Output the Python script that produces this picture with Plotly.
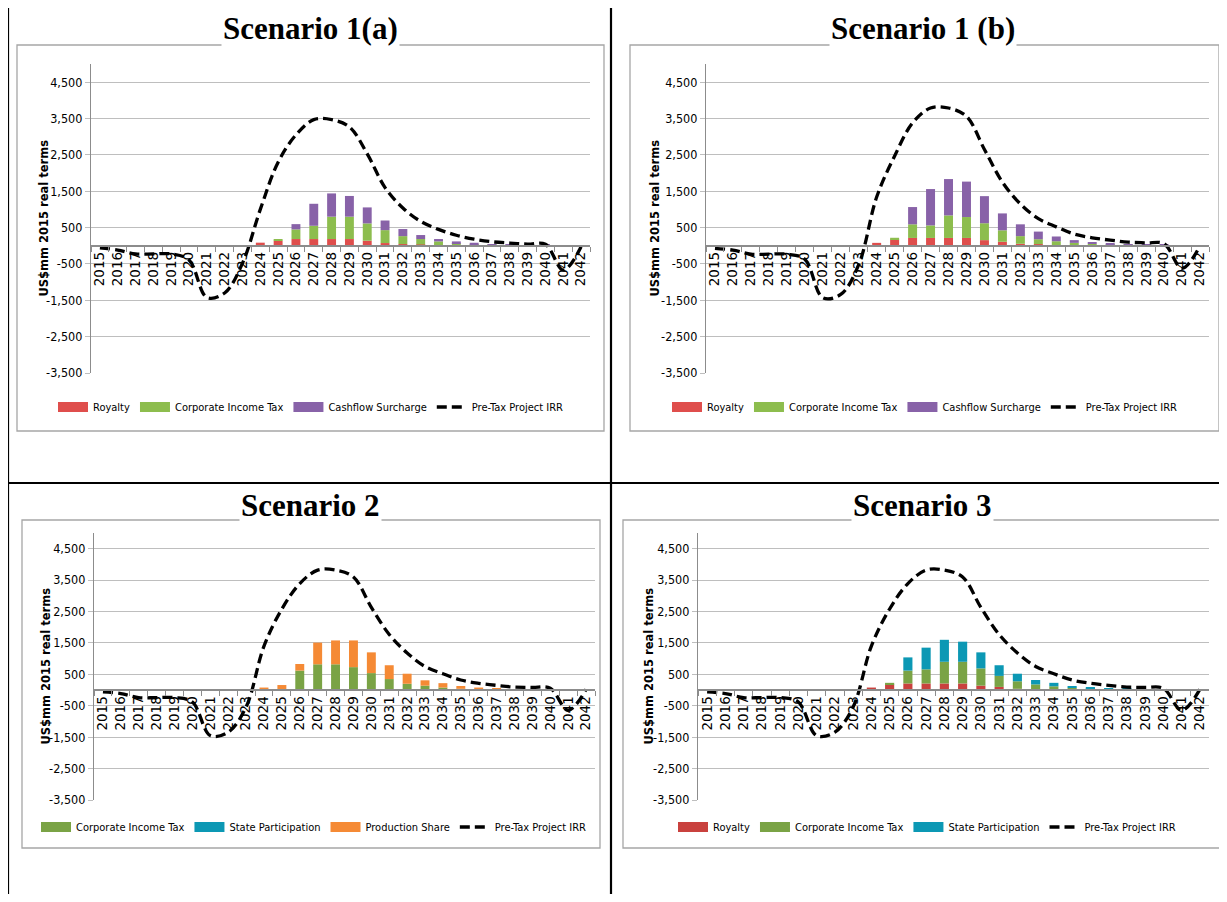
import plotly.graph_objects as go

# ---------------- data ----------------
years = [str(y) for y in range(2015, 2043)]
y_tick_vals = [-3500, -2500, -1500, -500, 500, 1500, 2500, 3500, 4500]
y_tick_text = ["-3,500", "-2,500", "-1,500", "-500", "500", "1,500", "2,500", "3,500", "4,500"]
y_range = [-3500, 5000]

titles = ["Scenario 1(a)", "Scenario 1 (b)", "Scenario 2", "Scenario 3"]
line_name = "Pre-Tax Project IRR"

# Scenario 1(a)
s1a_names = ["Royalty", "Corporate Income Tax", "Cashflow Surcharge"]
s1a_royalty = [0]*9 + [85, 140, 185, 185, 185, 185, 140, 75, 45, 35, 15, 10, 8, 5, 3, 2, 2, 0, 0]
s1a_cit = [0]*9 + [0, 45, 265, 365, 615, 615, 475, 355, 220, 150, 105, 65, 40, 25, 12, 8, 4, 0, 0]
s1a_cfs = [0]*9 + [0, 0, 145, 605, 640, 570, 440, 265, 195, 110, 65, 45, 35, 18, 10, 10, 25, 0, 0]
s1a_line = [-55, -120, -225, -225, -225, -390, -1420, -1300, -480, 1000, 2300, 3050, 3470, 3470,
            3270, 2530, 1600, 1040, 670, 450, 290, 180, 110, 75, 45, 40, -670, -30]

# Scenario 1(b)
s1b_names = ["Royalty", "Corporate Income Tax", "Cashflow Surcharge"]
s1b_royalty = [0]*9 + [80, 175, 215, 215, 215, 215, 155, 110, 55, 45, 15, 10, 5, 3, 2, 2, 1, 0, 0]
s1b_cit = [0]*9 + [0, 45, 375, 345, 620, 575, 465, 315, 210, 135, 110, 70, 45, 30, 20, 15, 8, 0, 0]
s1b_cfs = [0]*9 + [0, 0, 475, 1000, 1000, 975, 745, 465, 325, 210, 130, 75, 40, 30, 20, 15, 20, 0, 0]
s1b_line = [-70, -120, -230, -230, -230, -370, -1430, -1340, -520, 1340, 2470, 3380, 3790, 3790,
            3560, 2650, 1750, 1150, 745, 520, 320, 220, 155, 100, 80, 55, -620, 0]

# Scenario 2
s2_names = ["Corporate Income Tax", "State Participation", "Production Share"]
s2_cit = [0]*9 + [0, 0, 620, 820, 820, 730, 540, 350, 200, 140, 80, 40, 20, 10, 5, 5, 3, 0, 0]
s2_sp = [0]*28
s2_ps = [0]*8 + [10, 80, 160, 210, 690, 760, 850, 660, 440, 320, 170, 140, 90, 60, 40, 25, 20, 17, 0, 0]
s2_line = [-55, -110, -240, -240, -240, -380, -1450, -1340, -540, 1400, 2580, 3390, 3820, 3820,
           3600, 2630, 1770, 1180, 750, 520, 320, 215, 150, 95, 85, 55, -645, 20]

# Scenario 3
s3_names = ["Royalty", "Corporate Income Tax", "State Participation"]
s3_royalty = [0]*8 + [10, 80, 180, 210, 210, 210, 210, 140, 100, 40, 30, 15, 10, 5, 3, 2, 2, 1, 0, 0]
s3_cit = [0]*9 + [0, 50, 410, 450, 690, 690, 550, 350, 240, 150, 105, 60, 35, 22, 13, 8, 7, 0, 0]
s3_sp = [0]*9 + [0, 0, 420, 690, 700, 640, 510, 340, 240, 140, 110, 60, 50, 35, 25, 20, 17, 0, 0]
s3_line = [-55, -110, -240, -240, -240, -380, -1450, -1340, -540, 1400, 2580, 3390, 3820, 3820,
           3600, 2630, 1770, 1180, 750, 520, 320, 215, 150, 95, 85, 55, -645, 20]

# ---------------- styling / layout ----------------
C_ROY = "#DF4E4C"
C_CIT = "#8DBD4E"
C_CFS = "#8862A8"
C_CIT2 = "#7AA345"
C_SP = "#0C98B4"
C_PS = "#F58A35"
C_ROY3 = "#C9413E"

panels = [
    dict(names=s1a_names, series=[s1a_royalty, s1a_cit, s1a_cfs], colors=[C_ROY, C_CIT, C_CFS], line=s1a_line,
         plot=(91, 590, 64, 373), box=(17, 45, 604, 431), title=(310, 29), ytitle_x=44, legend=(311, 407)),
    dict(names=s1b_names, series=[s1b_royalty, s1b_cit, s1b_cfs], colors=[C_ROY, C_CIT, C_CFS], line=s1b_line,
         plot=(706, 1209, 64, 373), box=(630, 45, 1219, 431), title=(923, 29), ytitle_x=655, legend=(925, 407)),
    dict(names=s2_names, series=[s2_cit, s2_sp, s2_ps], colors=[C_CIT2, C_SP, C_PS], line=s2_line,
         plot=(94, 595, 533, 800), box=(22, 520, 600, 848), title=(310, 505), ytitle_x=45, legend=(314, 827)),
    dict(names=s3_names, series=[s3_royalty, s3_cit, s3_sp], colors=[C_ROY3, C_CIT2, C_SP], line=s3_line,
         plot=(698, 1209, 533, 800), box=(623, 520, 1220, 848), title=(922, 505), ytitle_x=648, legend=(927, 827)),
]

W, H = 1211, 886
O = 8


def fx(px):
    return (px - O) / W


def fy(py):
    return 1 - (py - O) / H


LEG_FONT = "Liberation Sans Narrow, DejaVu Sans Condensed, Roboto Condensed, Lato, sans-serif"
TICK_FONT = "Liberation Sans Narrow, DejaVu Sans Condensed, Roboto Condensed, Lato, sans-serif"

fig = go.Figure()
layout = dict(
    width=W, height=H, autosize=False,
    margin=dict(l=0, r=0, t=0, b=0, pad=0, autoexpand=False),
    paper_bgcolor="white", plot_bgcolor="white",
    barmode="relative", bargap=0.5,
    showlegend=True,
    shapes=[], annotations=[],
)

zero_frac = (0 - y_range[0]) / (y_range[1] - y_range[0])

for i, p in enumerate(panels):
    sfx = "" if i == 0 else str(i + 1)
    xref, yref = "x" + sfx, "y" + sfx
    leg = "legend" + sfx
    x0, x1, ytop, ybot = p["plot"]
    yd0, yd1 = fy(ybot), fy(ytop)
    pos = yd0 + zero_frac * (yd1 - yd0)

    layout["xaxis" + sfx] = dict(
        domain=[fx(x0), fx(x1)], anchor="free", position=pos,
        type="category", categoryorder="array", categoryarray=years,
        tickmode="array", tickvals=years, ticktext=years,
        tickangle=-90, tickfont=dict(family="DejaVu Sans", size=13.5, color="#000"),
        showline=True, linecolor="#8C8C8C", linewidth=1.5,
        ticks="outside", ticklen=5, tickcolor="#8C8C8C", tickson="boundaries",
        showgrid=False, zeroline=False, fixedrange=True, automargin=False,
    )
    layout["yaxis" + sfx] = dict(
        domain=[yd0, yd1], anchor=xref, range=y_range,
        tickvals=y_tick_vals, ticktext=y_tick_text,
        tickfont=dict(family=TICK_FONT, size=12.5, color="#000"),
        showgrid=True, gridcolor="#BEBEBE", gridwidth=1.3,
        showline=True, linecolor="#8C8C8C", linewidth=1.3,
        ticks="outside", ticklen=5, tickcolor="#BEBEBE",
        zeroline=False, fixedrange=True, automargin=False,
    )
    layout[leg] = dict(
        orientation="h", x=fx(p["legend"][0]), y=fy(p["legend"][1]),
        xanchor="center", yanchor="middle", bgcolor="rgba(0,0,0,0)",
        font=dict(family=LEG_FONT, size=11, color="#000"),
        itemwidth=30, traceorder="normal", itemclick=False, itemdoubleclick=False,
    )

    for name, vals, col in zip(p["names"], p["series"], p["colors"]):
        fig.add_trace(go.Bar(x=years, y=vals, name=name, marker=dict(color=col, line=dict(width=0)),
                             xaxis=xref, yaxis=yref, showlegend=False))
    # legend swatches
    for name, col in zip(p["names"], p["colors"]):
        fig.add_trace(go.Scatter(x=[None], y=[None], mode="lines", name=name,
                                 line=dict(color=col, width=11), xaxis=xref, yaxis=yref,
                                 legend=leg, showlegend=True))
    fig.add_trace(go.Scatter(x=years, y=p["line"], mode="lines", name=line_name,
                             line=dict(color="black", width=3.3, dash="10px,5px", shape="spline", smoothing=1),
                             xaxis=xref, yaxis=yref, legend=leg, showlegend=True))

    bx0, by0, bx1, by1 = p["box"]
    layout["shapes"].append(dict(type="rect", xref="paper", yref="paper",
                                 x0=fx(bx0), x1=fx(bx1), y0=fy(by1), y1=fy(by0),
                                 line=dict(color="#A6A6A6", width=1.3), layer="below"))
    layout["annotations"].append(dict(
        text=titles[i], x=fx(p["title"][0]), y=fy(p["title"][1]), xref="paper", yref="paper",
        xanchor="center", yanchor="middle", showarrow=False, bgcolor="white",
        font=dict(family="Liberation Serif, Times New Roman, serif", size=31, color="#000", weight="bold")))
    layout["annotations"].append(dict(
        text="US$mm 2015 real terms", x=fx(p["ytitle_x"]), y=(yd0 + yd1) / 2, xref="paper", yref="paper",
        xanchor="center", yanchor="middle", showarrow=False, textangle=-90,
        font=dict(family="DejaVu Sans", size=11.5, color="#000", weight="bold")))

# table borders
for (ax0, ay0, ax1, ay1) in [(8, 6, 1227, 6), (8, 6, 8, 902), (611, 6, 611, 902), (8, 483, 1227, 483)]:
    layout["shapes"].append(dict(type="line", xref="paper", yref="paper",
                                 x0=fx(ax0), x1=fx(ax1), y0=fy(ay0), y1=fy(ay1),
                                 line=dict(color="black", width=2.2)))

fig.update_layout(**layout)
fig.write_html("out.html")
